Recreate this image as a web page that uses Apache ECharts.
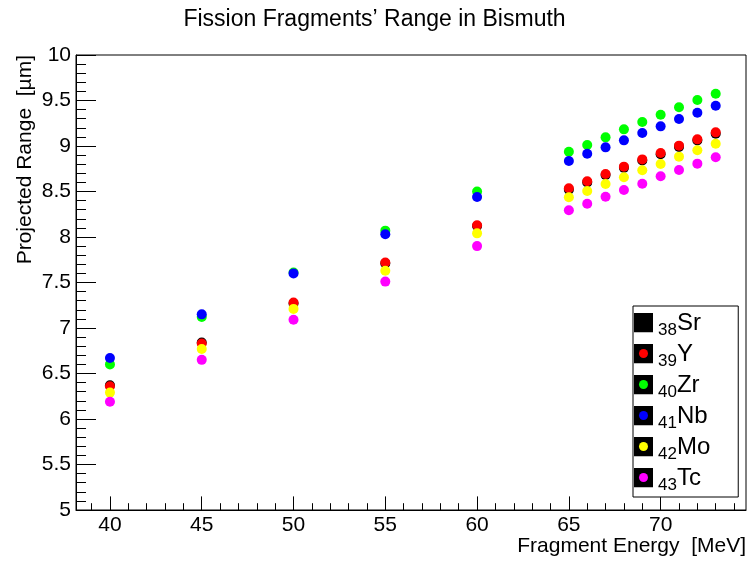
<!DOCTYPE html>
<html>
<head>
<meta charset="utf-8">
<script src="https://cdn.jsdelivr.net/npm/echarts@6/dist/echarts.min.js"></script>
<style>
html, body { margin: 0; padding: 0; background: #fff; }
#chart { width: 749px; height: 562px; }
</style>
</head>
<body>
<div id="chart"></div>
<script>
// fragment energies (MeV)
var energies = [40, 45, 50, 55, 60, 65, 66, 67, 68, 69, 70, 71, 72, 73];

// projected range (um) per element
var srRange = [6.37, 6.84, 7.27, 7.71, 8.12, 8.52, 8.60, 8.68, 8.76, 8.84, 8.91, 8.99, 9.06, 9.135];
var yRange  = [6.36, 6.83, 7.28, 7.72, 8.13, 8.535, 8.612, 8.692, 8.773, 8.853, 8.923, 9.004, 9.073, 9.15];
var zrRange = [6.60, 7.12, 7.61, 8.07, 8.50, 8.937, 9.011, 9.095, 9.183, 9.264, 9.344, 9.425, 9.505, 9.575];
var nbRange = [6.67, 7.15, 7.60, 8.03, 8.44, 8.835, 8.915, 8.985, 9.062, 9.143, 9.216, 9.297, 9.366, 9.443];
var moRange = [6.29, 6.77, 7.21, 7.63, 8.04, 8.436, 8.505, 8.582, 8.656, 8.733, 8.802, 8.883, 8.953, 9.025];
var tcRange = [6.19, 6.65, 7.09, 7.51, 7.90, 8.293, 8.366, 8.443, 8.516, 8.586, 8.667, 8.736, 8.806, 8.876];

var elements = ['Sr', 'Y', 'Zr', 'Nb', 'Mo', 'Tc'];
var atomicNumbers = [38, 39, 40, 41, 42, 43];
var colors = ['#000000', '#ff0000', '#00ff00', '#0000ff', '#ffff00', '#ff00ff'];
var ranges = [srRange, yRange, zrRange, nbRange, moRange, tcRange];

// tick labels
var majorTicks = [40, 45, 50, 55, 60, 65, 70];
var minorTicks = [];
for (var t = 39; t <= 74; t++) minorTicks.push(t);

var chart = echarts.init(document.getElementById('chart'));

// legend marker: black box with coloured dot
function legendIcon(c) {
    var svg = '<svg xmlns="http://www.w3.org/2000/svg" width="19" height="20">' +
        '<rect width="19" height="20" fill="#000"/>' +
        '<circle cx="9.5" cy="10" r="4.5" fill="' + c + '"/></svg>';
    return 'image://data:image/svg+xml;charset=utf-8,' + encodeURIComponent(svg);
}

var series = [];
var legendData = [];
for (var i = 0; i < elements.length; i++) {
    var pts = [];
    for (var j = 0; j < energies.length; j++) {
        pts.push([energies[j], ranges[i][j]]);
    }
    series.push({
        name: elements[i],
        type: 'scatter',
        symbol: 'circle',
        symbolSize: 10,
        itemStyle: { color: colors[i], opacity: 1 },
        data: pts
    });
    legendData.push({ name: elements[i], icon: legendIcon(colors[i]), itemStyle: { opacity: 1 } });
}

var option = {
    animation: false,
    backgroundColor: '#fff',
    textStyle: { fontFamily: 'Liberation Sans' },
    title: {
        text: 'Fission Fragments\u2019 Range in Bismuth',
        left: 'center',
        top: 3,
        textStyle: { fontSize: 23, fontWeight: 'normal', color: '#000', fontFamily: 'Liberation Sans' }
    },
    legend: {
        orient: 'vertical',
        left: 633,
        top: 306,
        itemWidth: 19,
        itemHeight: 20,
        itemGap: 3,
        padding: [5, 28, 3, 1],
        borderColor: '#000',
        borderWidth: 1,
        backgroundColor: '#fff',
        selectedMode: false,
        data: legendData,
        formatter: function (name) {
            var k = elements.indexOf(name);
            return '{sub|' + atomicNumbers[k] + '}{el|' + name + '}';
        },
        textStyle: {
            color: '#000',
            rich: {
                sub: { fontSize: 17, lineHeight: 16, padding: [11, 0, 0, 0], verticalAlign: 'top', color: '#000' },
                el: { fontSize: 24, lineHeight: 23, verticalAlign: 'top', color: '#000' }
            }
        }
    },
    grid: {
        left: 76,
        right: 2,
        top: 55,
        bottom: 52,
        show: true,
        borderColor: '#000',
        borderWidth: 1,
        backgroundColor: 'transparent'
    },
    xAxis: [{
        type: 'value',
        min: 38.15,
        max: 74.65,
        name: 'Fragment Energy  [MeV]',
        nameLocation: 'end',
        nameGap: 0,
        nameTextStyle: { fontSize: 21, color: '#000', align: 'right', verticalAlign: 'top', padding: [26, 0, 0, 0] },
        axisLine: { lineStyle: { color: '#000', width: 1 } },
        axisTick: { inside: true, length: 13.6, customValues: majorTicks, lineStyle: { color: '#000' } },
        axisLabel: { customValues: majorTicks, fontSize: 21, color: '#000', margin: 5 },
        splitLine: { show: false }
    }, {
        type: 'value',
        min: 38.15,
        max: 74.65,
        position: 'bottom',
        axisLine: { show: false },
        axisTick: { inside: true, length: 6.8, customValues: minorTicks, lineStyle: { color: '#000' } },
        axisLabel: { show: false },
        splitLine: { show: false }
    }],
    yAxis: {
        type: 'value',
        min: 5,
        max: 10,
        interval: 0.5,
        name: 'Projected Range  [\u00b5m]',
        nameLocation: 'end',
        nameRotate: 90,
        nameGap: 0,
        nameTextStyle: { fontSize: 21, color: '#000', align: 'right', verticalAlign: 'bottom', padding: [0, 0, 40, 0] },
        axisLine: { show: true, lineStyle: { color: '#000', width: 1 } },
        axisTick: { inside: true, length: 20, lineStyle: { color: '#000' } },
        minorTick: { show: true, splitNumber: 5, length: 10, lineStyle: { color: '#000' } },
        axisLabel: { fontSize: 21, color: '#000', margin: 5 },
        splitLine: { show: false }
    },
    series: series
};

chart.setOption(option);
</script>
</body>
</html>
